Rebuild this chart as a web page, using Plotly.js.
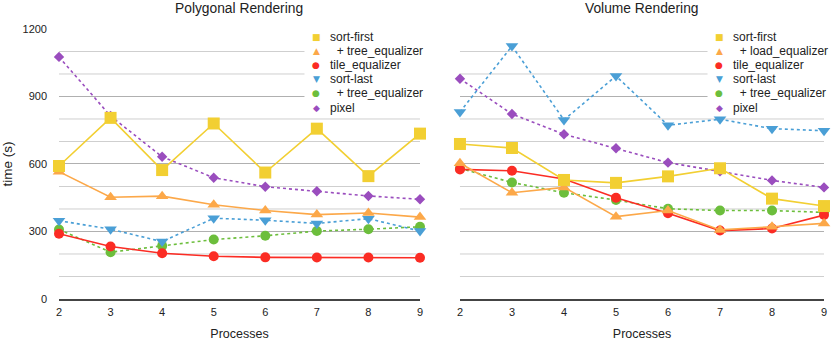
<!DOCTYPE html>
<html>
<head>
<meta charset="utf-8">
<script src="https://cdn.plot.ly/plotly-3.0.1.min.js"></script>
<style>
  body { margin: 0; background: white; }
  #chart { width: 831px; height: 341px; }
</style>
</head>
<body>
<div id="chart"></div>
<script>
var processes = [2, 3, 4, 5, 6, 7, 8, 9];

// polygonal rendering, time in seconds
var poly_sort_first = [591, 805, 573, 780, 562, 757, 546, 735];
var poly_sf_tree = [566, 452, 457, 419, 393, 375, 382, 364];
var poly_tile = [290, 233, 203, 190, 185, 184, 184, 183];
var poly_sort_last = [348, 310, 255, 359, 350, 336, 357, 302];
var poly_sl_tree = [309, 208, 236, 264, 281, 302, 310, 321];
var poly_pixel = [1076, 813, 632, 539, 499, 479, 458, 443];

// volume rendering, time in seconds
var vol_sort_first = [689, 671, 529, 516, 545, 581, 446, 413];
var vol_sf_load = [603, 472, 496, 366, 393, 307, 321, 336];
var vol_tile = [576, 570, 533, 450, 381, 304, 313, 373];
var vol_sort_last = [831, 1124, 796, 991, 772, 799, 757, 748];
var vol_sl_tree = [580, 518, 472, 440, 401, 393, 393, 385];
var vol_pixel = [979, 822, 732, 670, 606, 567, 527, 496];

var poly_names = ["sort-first", "\u00a0\u00a0+ tree_equalizer", "tile_equalizer", "sort-last", "\u00a0\u00a0+ tree_equalizer", "pixel"];
var vol_names = ["sort-first", "\u00a0\u00a0+ load_equalizer", "tile_equalizer", "sort-last", "\u00a0\u00a0+ tree_equalizer", "pixel"];

// light grid lines between the labelled ones
var minor_ticks = [100, 200, 400, 500, 700, 800, 1000, 1100];

var colors = ["#F2CF32", "#FCA849", "#FB2C24", "#4A9FD6", "#6CBE3C", "#9A4DBE"];
var symbols = ["square", "triangle-up", "circle", "triangle-down", "circle", "diamond"];
var sizes = [12, 11, 10, 11, 10, 8];
var dashes = ["solid", "solid", "solid", "3px,3px", "3px,3px", "dot"];
var glyphs = ["\u25A0", "\u25B2", "\u25CF", "\u25BC", "\u25CF", "\u25C6"];

var font = "Liberation Sans, Arial, sans-serif";

function make_traces(series, names, xa, ya) {
    var out = [];
    // last series drawn first, like the original
    for (var i = series.length - 1; i >= 0; i--) {
        out.push({
            x: processes,
            y: series[i],
            name: names[i],
            xaxis: xa,
            yaxis: ya,
            type: "scatter",
            mode: "lines+markers",
            cliponaxis: false,
            showlegend: false,
            line: {color: colors[i], width: 1.6, dash: dashes[i]},
            marker: {color: colors[i], symbol: symbols[i], size: sizes[i]}
        });
    }
    return out;
}

function legend_notes(names, xa, ya) {
    var notes = [];
    for (var i = 0; i < names.length; i++) {
        var yy = 0.9715 - i * 0.0526;
        notes.push({
            xref: xa + " domain", yref: ya + " domain",
            x: 0.712, y: yy, xanchor: "center", yanchor: "middle",
            text: glyphs[i], showarrow: false,
            font: {family: "DejaVu Sans", size: 9, color: colors[i]}
        });
        notes.push({
            xref: xa + " domain", yref: ya + " domain",
            x: 0.745, y: yy, xanchor: "left", yanchor: "middle",
            text: names[i], showarrow: false,
            font: {family: font, size: 12, color: "#222"}
        });
    }
    return notes;
}

function minor_lines(xa, ya) {
    return minor_ticks.map(function (v) {
        return {
            type: "line", xref: xa + " domain", yref: ya,
            x0: 0, x1: 1, y0: v, y1: v,
            line: {color: "#cfcfcf", width: 1}, layer: "below"
        };
    });
}

var poly = [poly_sort_first, poly_sf_tree, poly_tile, poly_sort_last, poly_sl_tree, poly_pixel];
var vol = [vol_sort_first, vol_sf_load, vol_tile, vol_sort_last, vol_sl_tree, vol_pixel];

var data = make_traces(poly, poly_names, "x", "y").concat(make_traces(vol, vol_names, "x2", "y2"));

function xaxis_of(domain, anchor) {
    return {
        domain: domain, anchor: anchor,
        range: [2, 9], dtick: 1, ticks: "",
        showgrid: false, zeroline: false,
        showline: true, linecolor: "#444", linewidth: 2,
        tickfont: {family: font, size: 11, color: "#222"},
        ticklabelstandoff: 2,
        title: {text: "Processes", font: {family: font, size: 12.5, color: "#222"}, standoff: 12},
        fixedrange: true
    };
}

function yaxis_of(anchor, labels) {
    return {
        domain: [0.1232, 0.915], anchor: anchor,
        range: [0, 1200], tickmode: "linear", tick0: 0, dtick: 300, ticks: "",
        showticklabels: labels,
        showgrid: true, gridcolor: "#b0b0b0", gridwidth: 1,
        zeroline: false, showline: false,
        tickfont: {family: font, size: 11, color: "#222"},
        ticklabelstandoff: 11,
        fixedrange: true
    };
}

var ya = yaxis_of("x", true);
ya.title = {text: "time (s)", font: {family: font, size: 13.5, color: "#222"}, standoff: 10};

var legend_box = function (xa, ya) {
    return {
        type: "rect", xref: xa + " domain", yref: ya + " domain",
        x0: 0.68, x1: 1.01, y0: 0.685, y1: 1.01,
        fillcolor: "white", line: {width: 0}, layer: "above"
    };
};

var titles = [
    {xref: "x domain", yref: "paper", x: 0.5, y: 1 - 8.5 / 341, xanchor: "center", yanchor: "middle",
     text: "Polygonal Rendering", showarrow: false, font: {family: font, size: 13.8, color: "#222"}},
    {xref: "x2 domain", yref: "paper", x: 0.5, y: 1 - 8.5 / 341, xanchor: "center", yanchor: "middle",
     text: "Volume Rendering", showarrow: false, font: {family: font, size: 13.8, color: "#222"}}
];

var layout = {
    width: 831, height: 341,
    margin: {l: 0, r: 0, t: 0, b: 0},
    paper_bgcolor: "white",
    plot_bgcolor: "rgba(0,0,0,0)",
    showlegend: false,
    font: {family: font, color: "#222"},
    xaxis: xaxis_of([0.071, 0.5054], "y"),
    yaxis: ya,
    xaxis2: xaxis_of([0.5535, 0.9916], "y2"),
    yaxis2: yaxis_of("x2", false),
    shapes: minor_lines("x", "y").concat(minor_lines("x2", "y2"), [legend_box("x", "y"), legend_box("x2", "y2")]),
    annotations: titles.concat(legend_notes(poly_names, "x", "y"), legend_notes(vol_names, "x2", "y2"))
};

Plotly.newPlot("chart", data, layout, {staticPlot: true});
</script>
</body>
</html>
